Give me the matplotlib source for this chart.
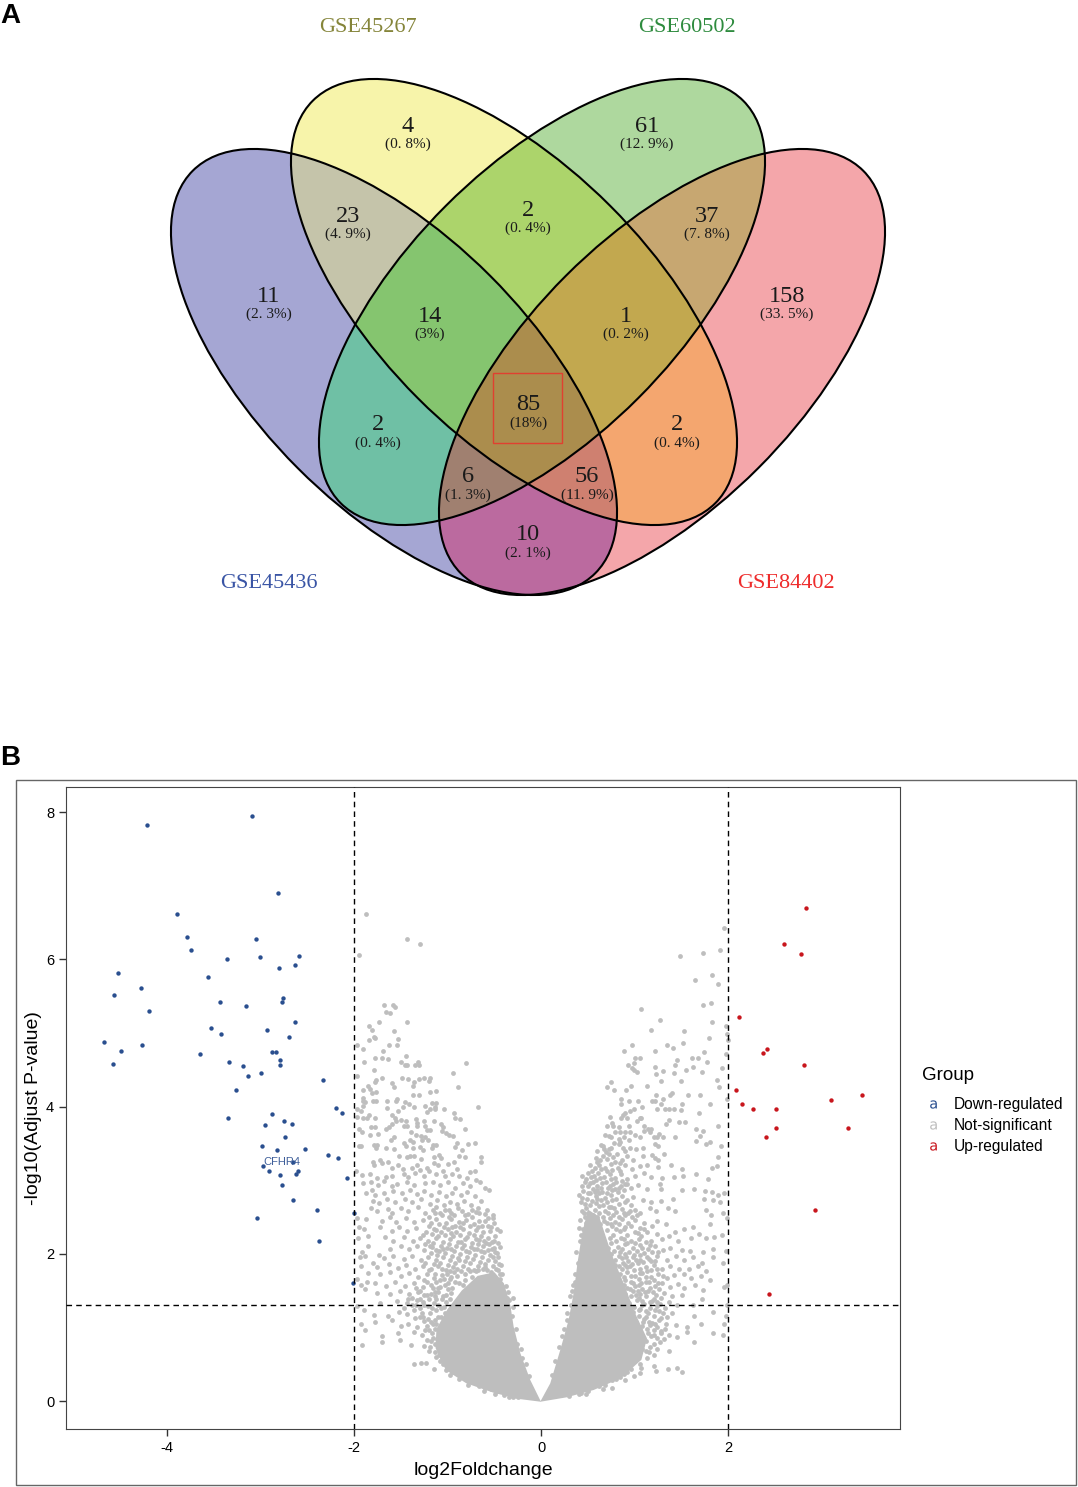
import matplotlib
matplotlib.use("Agg")
import matplotlib.pyplot as plt
import numpy as np
from matplotlib.colors import to_rgba
from matplotlib.lines import Line2D
from matplotlib.patches import Ellipse, Rectangle

plt.rcParams['axes.unicode_minus'] = False

# venn
set_names = ["GSE45267", "GSE60502", "GSE45436", "GSE84402"]
set_colors = ["#85853A", "#2E8B3E", "#3A55A5", "#EE2C2C"]
region_counts = ["4", "61", "23", "2", "37", "11", "158", "14", "1", "2", "85", "2", "6", "56", "10"]
region_pcts = ["(0. 8%)", "(12. 9%)", "(4. 9%)", "(0. 4%)", "(7. 8%)", "(2. 3%)", "(33. 5%)", "(3%)",
               "(0. 2%)", "(0. 4%)", "(18%)", "(0. 4%)", "(1. 3%)", "(11. 9%)", "(2. 1%)"]
# fill of each region, key is (blue, yellow, green, red) membership
region_fill = {
    (1, 0, 0, 0): "#A5A6D3", (0, 1, 0, 0): "#F7F4AA", (0, 0, 1, 0): "#AED89E", (0, 0, 0, 1): "#F4A6AA",
    (1, 1, 0, 0): "#C5C4AA", (0, 1, 1, 0): "#ACD46B", (0, 0, 1, 1): "#C7A771", (1, 0, 1, 0): "#6FC0A5",
    (0, 1, 0, 1): "#F4A66F", (1, 0, 0, 1): "#BB6A9F", (1, 1, 1, 0): "#85C56F", (0, 1, 1, 1): "#C2A84F",
    (1, 0, 1, 1): "#A08070", (1, 1, 0, 1): "#CF8070", (1, 1, 1, 1): "#AB8D4D",
}

# volcano
down_x = [-4.21, -3.09, -2.81, -3.89, -3.78, -3.74, -3.05, -3.36, -3.01, -2.59, -2.63, -2.80, -4.52, -3.56,
          -4.28, -4.56, -4.19, -2.76, -2.77, -3.43, -3.15, -2.63, -3.53, -2.93, -3.42, -2.69, -4.67, -4.27,
          -4.49, -3.65, -2.88, -2.83, -4.58, -2.79, -2.79, -3.34, -3.19, -3.13, -2.99, -2.33, -3.26, -2.19,
          -2.13, -3.35, -2.88, -2.75, -2.66, -2.95, -2.74, -2.98, -2.82, -2.52, -2.28, -2.17, -2.65, -2.97,
          -2.91, -2.60, -2.62, -2.79, -2.08, -2.77, -2.65, -2.40, -2.00, -3.04, -2.37, -2.01]
down_y = [7.82, 7.95, 6.90, 6.61, 6.30, 6.12, 6.27, 6.01, 6.03, 6.04, 5.92, 5.88, 5.82, 5.76,
          5.61, 5.52, 5.30, 5.48, 5.42, 5.42, 5.37, 5.15, 5.06, 5.04, 4.98, 4.95, 4.88, 4.84,
          4.76, 4.72, 4.74, 4.74, 4.58, 4.63, 4.57, 4.61, 4.55, 4.42, 4.45, 4.36, 4.22, 3.98,
          3.91, 3.84, 3.90, 3.81, 3.76, 3.75, 3.59, 3.46, 3.41, 3.42, 3.34, 3.30, 3.24, 3.19,
          3.13, 3.13, 3.09, 3.07, 3.03, 2.94, 2.73, 2.60, 2.56, 2.48, 2.17, 1.60]
up_x = [2.83, 2.59, 2.77, 2.11, 2.41, 2.37, 2.81, 2.08, 3.43, 3.10, 2.14, 2.26, 2.51, 2.51, 3.28, 2.40, 2.92, 2.43]
up_y = [6.69, 6.21, 6.07, 5.22, 4.78, 4.73, 4.56, 4.22, 4.16, 4.09, 4.03, 3.96, 3.96, 3.71, 3.71, 3.59, 2.59, 1.46]

grey_left = [
    (-1.875, 6.62), (-1.43, 6.27), (-1.30, 6.21), (-1.95, 6.06), (-1.68, 5.38), (-1.58, 5.38), (-1.565, 5.35),
    (-1.66, 5.29), (-1.62, 5.27), (-1.73, 5.15), (-1.43, 5.15), (-1.84, 5.09), (-1.81, 5.04), (-1.57, 5.02),
    (-1.79, 4.95), (-1.78, 4.93), (-1.84, 4.90), (-1.53, 4.92), (-1.97, 4.83), (-1.63, 4.84), (-1.54, 4.84),
    (-1.90, 4.78), (-1.69, 4.75), (-1.44, 4.68), (-1.78, 4.66), (-1.70, 4.66), (-1.64, 4.65), (-1.89, 4.61),
    (-1.50, 4.60), (-1.32, 4.61), (-0.80, 4.59), (-1.46, 4.56), (-1.43, 4.57), (-1.35, 4.57), (-1.31, 4.57),
    (-1.79, 4.50), (-0.94, 4.45), (-1.97, 4.42), (-1.70, 4.39), (-1.49, 4.39), (-1.42, 4.37), (-1.31, 4.38),
    (-1.25, 4.39), (-1.19, 4.39), (-1.77, 4.36), (-1.78, 4.33), (-1.20, 4.35), (-1.36, 4.33), (-1.60, 4.32),
    (-1.37, 4.28), (-1.85, 4.28), (-1.83, 4.24), (-1.57, 4.27), (-0.89, 4.26), (-1.91, 4.22), (-1.19, 4.20),
    (-1.12, 4.21), (-1.81, 4.19), (-1.77, 4.20), (-1.37, 4.15), (-1.31, 4.16), (-1.91, 4.12), (-1.90, 4.08),
    (-1.80, 4.07), (-1.77, 4.08), (-1.65, 4.07), (-1.54, 4.10), (-1.55, 4.07), (-1.46, 4.06), (-1.41, 4.03),
    (-1.17, 4.05), (-1.13, 4.05), (-1.88, 4.06), (-1.90, 4.01), (-1.48, 4.00), (-1.355, 3.99), (-1.24, 4.01),
    (-1.14, 4.00), (-0.68, 3.99), (-1.65, 3.98), (-1.97, 3.96), (-1.93, 3.94), (-1.53, 3.94), (-1.19, 3.96),
    (-1.22, 3.93), (-1.14, 3.96), (-1.035, 3.96), (-0.93, 3.91), (-1.84, 3.89), (-1.59, 3.89), (-0.92, 3.85),
    (-0.87, 3.83), (-1.97, 3.86), (-1.90, 3.84), (-1.86, 3.84), (-1.78, 3.84), (-1.56, 3.84), (-1.55, 3.80),
    (-1.50, 3.82), (-1.44, 3.80), (-1.34, 3.83), (-1.33, 3.78), (-1.25, 3.80), (-1.15, 3.81), (-1.07, 3.76),
    (-1.05, 3.72), (-1.60, 3.76), (-1.47, 3.73), (-1.43, 3.73), (-1.33, 3.74), (-1.24, 3.73), (-1.22, 3.68),
    (-1.19, 3.68), (-1.82, 3.72), (-1.78, 3.72), (-1.66, 3.69), (-1.63, 3.72), (-1.95, 3.69), (-1.92, 3.65),
    (-1.83, 3.62), (-1.74, 3.63), (-1.39, 3.66), (-1.34, 3.62), (-1.28, 3.60), (-1.24, 3.59), (-1.06, 3.67),
    (-1.02, 3.64), (-0.99, 3.62), (-0.94, 3.60), (-0.82, 3.69), (-1.61, 3.55), (-1.57, 3.58), (-1.47, 3.50),
    (-1.40, 3.55), (-1.37, 3.52), (-1.27, 3.54), (-1.21, 3.55), (-1.16, 3.48), (-1.13, 3.48), (-0.90, 3.50),
    (-0.92, 3.45), (-0.78, 3.49), (-0.71, 3.50), (-1.95, 3.46), (-1.93, 3.46), (-1.79, 3.48), (-1.76, 3.48),
    (-1.77, 3.43), (-1.66, 3.44), (-1.57, 3.42), (-1.45, 3.47), (-1.37, 3.43), (-1.30, 3.45), (-1.26, 3.41),
    (-1.17, 3.43), (-0.85, 3.41), (-1.52, 3.33), (-1.43, 3.31), (-1.40, 3.33), (-1.36, 3.33), (-1.28, 3.29),
    (-1.15, 3.31), (-1.09, 3.34), (-1.07, 3.30), (-0.88, 3.33), (-0.82, 3.32), (-0.64, 3.31), (-0.64, 3.25),
    (-1.80, 3.25), (-1.79, 3.20), (-1.72, 3.27), (-1.70, 3.23), (-1.64, 3.24), (-1.59, 3.16), (-1.53, 3.20),
    (-1.48, 3.15), (-1.38, 3.17), (-1.33, 3.20), (-1.30, 3.14), (-1.22, 3.16), (-1.15, 3.23), (-1.10, 3.20),
    (-1.05, 3.13), (-1.00, 3.22), (-0.93, 3.24), (-0.90, 3.15), (-0.76, 3.11), (-0.71, 3.12), (-1.98, 3.12),
    (-1.92, 3.07), (-1.83, 3.09), (-1.75, 3.03), (-1.66, 3.04), (-1.60, 3.05), (-1.47, 3.08), (-1.42, 3.04),
    (-1.35, 3.10), (-1.25, 3.05), (-1.20, 3.12), (-1.12, 3.08), (-1.03, 3.05), (-0.95, 3.09), (-0.88, 3.05),
    (-0.79, 3.03), (-0.70, 3.00), (-0.65, 2.98), (-1.91, 2.96), (-1.82, 2.97), (-1.74, 2.93), (-1.68, 2.99),
    (-1.60, 2.92), (-1.54, 2.95), (-1.43, 2.97), (-1.36, 2.94), (-1.24, 2.96), (-1.16, 2.98), (-1.08, 2.93),
    (-1.00, 2.97), (-0.92, 2.90), (-0.84, 2.96), (-0.76, 2.92), (-0.60, 2.90), (-0.56, 2.87), (-1.87, 2.83),
    (-1.81, 2.87), (-1.78, 2.80), (-1.68, 2.82), (-1.58, 2.85), (-1.49, 2.82), (-1.40, 2.86), (-1.33, 2.81),
    (-1.25, 2.85), (-1.18, 2.80), (-1.09, 2.84), (-1.02, 2.79), (-0.95, 2.83), (-0.86, 2.80), (-0.79, 2.84),
    (-0.71, 2.78), (-0.64, 2.72), (-1.80, 2.72), (-1.73, 2.69), (-1.65, 2.74), (-1.56, 2.70), (-1.46, 2.75),
    (-1.38, 2.71), (-1.28, 2.74), (-1.19, 2.68), (-1.11, 2.73), (-1.04, 2.66), (-0.97, 2.71), (-0.90, 2.67),
    (-0.83, 2.72), (-0.75, 2.66), (-0.68, 2.62), (-1.82, 2.62), (-1.75, 2.58), (-1.64, 2.61), (-1.59, 2.56),
    (-1.50, 2.62), (-1.42, 2.58), (-1.32, 2.63), (-1.24, 2.55), (-1.16, 2.60), (-1.08, 2.56), (-0.99, 2.60),
    (-0.93, 2.53), (-0.85, 2.58), (-0.78, 2.54), (-0.70, 2.57), (-0.60, 2.54), (-0.52, 2.49), (-1.97, 2.49),
    (-1.87, 2.47), (-1.70, 2.45), (-1.62, 2.50), (-1.55, 2.43), (-1.45, 2.48), (-1.36, 2.43), (-1.26, 2.46),
    (-1.18, 2.42), (-1.12, 2.47), (-1.02, 2.42), (-0.96, 2.47), (-0.88, 2.43), (-0.80, 2.46), (-0.72, 2.41),
    (-0.66, 2.44), (-0.57, 2.38), (-0.50, 2.42), (-1.95, 2.37), (-1.89, 2.33), (-1.72, 2.36), (-1.60, 2.31),
    (-1.52, 2.36), (-1.43, 2.31), (-1.34, 2.35), (-1.23, 2.30), (-1.15, 2.34), (-1.07, 2.29), (-1.00, 2.33),
    (-0.91, 2.30), (-0.84, 2.33), (-0.77, 2.28), (-0.70, 2.32), (-0.62, 2.29), (-0.55, 2.31), (-0.44, 2.31),
    (-1.96, 2.22), (-1.85, 2.24), (-1.67, 2.23), (-1.58, 2.18), (-1.47, 2.23), (-1.37, 2.18), (-1.30, 2.22),
    (-1.21, 2.17), (-1.13, 2.21), (-1.05, 2.16), (-0.97, 2.20), (-0.89, 2.16), (-0.81, 2.20), (-0.74, 2.15),
    (-0.66, 2.19), (-0.59, 2.14), (-0.51, 2.18), (-0.46, 2.14), (-1.85, 2.10), (-1.62, 2.07), (-1.50, 2.10),
    (-1.41, 2.06), (-1.33, 2.10), (-1.25, 2.05), (-1.17, 2.09), (-1.09, 2.04), (-1.01, 2.08), (-0.93, 2.04),
    (-0.85, 2.08), (-0.77, 2.03), (-0.69, 2.07), (-0.61, 2.02), (-0.53, 2.06), (-0.47, 2.01), (-1.92, 2.03),
    (-1.94, 1.95), (-1.88, 1.97), (-1.73, 1.99), (-1.68, 1.94), (-1.58, 1.97), (-1.47, 1.93), (-1.38, 1.97),
    (-1.29, 1.92), (-1.21, 1.96), (-1.13, 1.91), (-1.05, 1.95), (-0.97, 1.91), (-0.89, 1.94), (-0.81, 1.90),
    (-0.73, 1.93), (-0.65, 1.89), (-0.57, 1.92), (-0.49, 1.90), (-0.43, 1.85), (-1.93, 1.84), (-1.80, 1.88),
    (-1.75, 1.82), (-1.63, 1.86), (-1.53, 1.81), (-1.44, 1.85), (-1.35, 1.80), (-1.26, 1.84), (-1.18, 1.79),
    (-1.10, 1.83), (-1.02, 1.78), (-0.94, 1.82), (-0.86, 1.77), (-0.78, 1.80), (-0.70, 1.76), (-0.62, 1.79),
    (-0.54, 1.75), (-0.46, 1.78), (-0.42, 1.72), (-1.85, 1.74), (-1.72, 1.72), (-1.62, 1.75), (-1.50, 1.70),
    (-1.41, 1.74), (-1.32, 1.69), (-1.22, 1.73), (-1.15, 1.67), (-1.06, 1.71), (-0.98, 1.66), (-0.90, 1.70),
    (-0.82, 1.65), (-0.74, 1.68), (-0.66, 1.64), (-0.58, 1.67), (-0.50, 1.63), (-0.44, 1.66), (-1.97, 1.66),
    (-1.93, 1.58), (-1.86, 1.62), (-1.78, 1.60), (-1.66, 1.56), (-1.56, 1.61), (-1.46, 1.56), (-1.36, 1.60),
    (-1.26, 1.55), (-1.18, 1.58), (-1.10, 1.54), (-1.03, 1.58), (-0.95, 1.53), (-0.38, 1.56), (-0.36, 1.48),
    (-1.88, 1.52), (-1.76, 1.47), (-1.62, 1.46), (-1.51, 1.49), (-1.41, 1.45), (-1.32, 1.48), (-1.22, 1.44),
    (-1.14, 1.48), (-1.05, 1.43), (-0.30, 1.40), (-0.34, 1.37), (-1.97, 1.29), (-1.89, 1.24), (-1.72, 1.33),
    (-1.54, 1.36), (-1.43, 1.33), (-1.33, 1.37), (-1.25, 1.30), (-1.15, 1.33), (-1.07, 1.27), (-1.79, 1.17),
    (-1.78, 1.08), (-1.64, 1.16), (-1.60, 1.10), (-1.52, 1.21), (-1.43, 1.18), (-1.36, 1.24), (-1.27, 1.20),
    (-1.19, 1.19), (-1.10, 1.14), (-1.03, 1.20), (-1.93, 1.05), (-1.88, 0.96), (-1.50, 1.02), (-1.42, 1.05),
    (-1.33, 1.00), (-1.25, 1.09), (-1.16, 1.04), (-1.08, 0.97), (-1.53, 0.92), (-1.51, 0.83), (-1.36, 0.94),
    (-1.27, 0.89), (-1.17, 0.92), (-1.11, 0.84), (-1.70, 0.88), (-1.70, 0.80), (-1.92, 0.76), (-1.39, 0.76),
    (-1.25, 0.75), (-1.19, 0.73), (-1.14, 0.66), (-1.07, 0.72), (-1.36, 0.50), (-1.28, 0.52), (-1.23, 0.52),
    (-1.15, 0.43), (-1.02, 0.42), (-0.97, 0.36), (-0.88, 0.30), (-0.78, 0.22), (-0.61, 0.14), (-0.49, 0.10),
    (-0.91, 0.56), (-1.06, 0.58), (-0.30, 1.28), (-0.31, 1.15), (-0.27, 0.98), (-0.22, 0.70), (-0.16, 0.50),
]
# denser part of the left arm
grey_left_mid = [
    (-1.12, 2.63), (-1.03, 2.60), (-0.96, 2.56), (-0.89, 2.62), (-0.81, 2.52), (-0.74, 2.60), (-0.66, 2.55),
    (-0.58, 2.60), (-0.52, 2.53), (-1.20, 2.50), (-1.09, 2.40), (-0.99, 2.50), (-0.92, 2.38), (-0.84, 2.42),
    (-0.76, 2.38), (-0.68, 2.36), (-0.60, 2.44), (-0.54, 2.36), (-0.47, 2.34), (-1.17, 2.27), (-1.10, 2.24),
    (-1.03, 2.26), (-0.94, 2.24), (-0.87, 2.25), (-0.79, 2.23), (-0.72, 2.25), (-0.64, 2.24), (-0.57, 2.22),
    (-0.49, 2.24), (-1.24, 2.13), (-1.16, 2.15), (-1.07, 2.11), (-0.99, 2.13), (-0.91, 2.10), (-0.83, 2.12),
    (-0.75, 2.09), (-0.68, 2.13), (-0.62, 2.10), (-0.56, 2.13), (-0.50, 2.08), (-0.44, 2.09), (-1.18, 2.01),
    (-1.11, 1.98), (-1.03, 2.01), (-0.95, 1.97), (-0.87, 2.00), (-0.79, 1.96), (-0.71, 1.99), (-0.63, 1.96),
    (-0.55, 1.99), (-0.52, 1.95), (-0.46, 1.96), (-1.08, 1.88), (-1.00, 1.85), (-0.92, 1.87), (-0.84, 1.84),
    (-0.76, 1.87), (-0.68, 1.83), (-0.60, 1.86), (-0.52, 1.83), (-0.45, 1.86), (-1.01, 1.73), (-0.93, 1.75),
    (-1.25, 1.65), (-1.12, 1.62), (-1.08, 1.65), (-1.00, 1.60), (-0.92, 1.62), (-1.30, 1.50), (-1.18, 1.46),
    (-1.10, 1.48), (-1.02, 1.44), (-0.96, 1.47), (-1.38, 1.40), (-1.30, 1.38), (-1.20, 1.38), (-1.12, 1.38),
    (-1.02, 1.34), (-0.98, 1.38), (-1.38, 1.30), (-1.30, 1.27), (-1.21, 1.29), (-1.12, 1.24), (-1.04, 1.28),
    (-1.47, 1.26), (-1.30, 1.14), (-1.21, 1.12), (-1.14, 1.10), (-1.07, 1.14), (-1.22, 1.02), (-1.14, 0.98),
    (-1.20, 0.96), (-1.12, 1.05), (-1.16, 0.85), (-1.22, 0.83), (-1.14, 0.78), (-1.09, 0.62), (-1.05, 0.50),
    (-0.99, 0.49), (-0.93, 0.43), (-0.84, 0.34), (-0.72, 0.26), (-0.66, 0.21), (-0.54, 0.17), (-0.40, 0.08),
    (-0.30, 0.05), (-0.36, 1.25), (-0.34, 1.12), (-0.31, 0.92), (-0.26, 0.78), (-0.21, 0.58), (-0.13, 0.34),
    (-0.40, 1.45), (-0.42, 1.56), (-0.37, 1.40), (-0.44, 1.73), (-0.48, 1.80), (-0.60, 1.82), (-0.72, 1.78),
    (-1.14, 2.56), (-1.06, 2.52), (-0.95, 2.37), (-0.87, 2.36), (-0.74, 2.50), (-0.63, 2.38), (-0.57, 2.48),
    (-1.20, 2.38), (-1.12, 2.32), (-1.04, 2.36), (-0.96, 2.28), (-0.86, 2.16), (-0.70, 2.20), (-0.61, 2.18),
    (-0.53, 2.16), (-1.26, 2.25), (-1.19, 2.10), (-1.12, 2.05), (-1.05, 2.06), (-0.96, 2.06), (-0.88, 1.92),
    (-0.80, 2.04), (-0.72, 2.06), (-0.64, 2.04), (-0.57, 2.05), (-0.49, 2.02), (-1.24, 1.88), (-1.15, 1.86),
    (-1.06, 1.80), (-0.98, 1.77), (-0.90, 1.80), (-0.82, 1.72), (-0.76, 1.76), (-0.68, 1.78), (-0.58, 1.78),
    (-1.20, 1.78), (-1.14, 1.72), (-1.04, 1.66), (-0.96, 1.68), (-0.88, 1.60), (-0.84, 1.58), (-1.22, 1.62),
    (-1.16, 1.54), (-1.08, 1.55), (-1.00, 1.52), (-1.34, 1.54), (-1.25, 1.44), (-1.14, 1.42), (-1.06, 1.38),
    (-1.42, 1.38), (-1.34, 1.30), (-1.26, 1.34), (-1.17, 1.26), (-1.10, 1.30), (-1.35, 1.13), (-1.26, 1.14),
    (-1.18, 1.08), (-1.24, 0.97), (-1.18, 0.82), (-1.20, 0.68), (-1.12, 0.60), (-1.08, 0.55), (-0.78, 0.27),
    (-0.60, 0.18), (-0.47, 0.13), (-0.35, 0.06), (-0.25, 0.06), (-0.95, 0.40), (-0.88, 0.35),
]
grey_right = [
    (1.95, 6.42), (1.73, 6.09), (1.91, 6.12), (1.48, 6.05), (1.64, 5.72), (1.82, 5.78), (1.89, 5.67), (1.73, 5.38),
    (1.81, 5.40), (1.07, 5.32), (1.27, 5.18), (1.82, 5.15), (1.97, 5.09), (1.17, 5.04), (1.53, 5.03), (1.98, 4.98),
    (1.79, 4.93), (1.99, 4.91), (1.51, 4.86), (0.965, 4.84), (1.34, 4.84), (1.41, 4.80), (0.88, 4.75), (1.21, 4.75),
    (1.74, 4.74), (1.97, 4.71), (1.00, 4.66), (1.06, 4.66), (1.61, 4.66), (1.68, 4.66), (1.45, 4.63), (1.77, 4.61),
    (0.986, 4.59), (0.93, 4.57), (1.43, 4.57), (1.22, 4.54), (1.62, 4.54), (1.93, 4.52), (0.968, 4.52), (0.99, 4.49),
    (1.02, 4.465), (1.30, 4.48), (1.55, 4.50), (1.716, 4.465), (1.23, 4.44), (1.42, 4.46), (1.876, 4.36), (1.28, 4.35),
    (1.49, 4.34), (0.75, 4.33), (0.70, 4.26), (0.78, 4.22), (0.957, 4.28), (1.13, 4.28), (0.904, 4.22), (1.90, 4.26),
    (1.40, 4.18), (1.57, 4.15), (1.70, 4.15), (1.23, 4.15), (1.38, 4.16), (0.854, 4.10), (1.30, 4.10), (1.98, 4.10),
    (0.936, 4.07), (1.03, 4.08), (1.18, 4.07), (1.22, 4.07), (1.28, 4.04), (0.847, 4.03), (1.08, 3.99), (1.50, 4.03),
    (1.80, 4.03), (1.235, 3.96), (1.32, 3.96), (1.36, 3.96), (1.42, 3.96), (1.49, 3.95), (0.986, 3.96), (0.943, 3.94),
    (0.90, 3.91), (0.87, 3.89), (1.69, 3.91), (0.73, 3.86), (1.07, 3.85), (0.854, 3.84), (0.92, 3.84), (1.05, 3.84),
    (1.36, 3.82), (1.02, 3.80), (1.33, 3.76), (1.47, 3.79), (1.54, 3.79), (0.755, 3.77), (0.77, 3.74), (0.70, 3.73),
    (0.83, 3.72), (0.94, 3.74), (1.10, 3.73), (1.89, 3.73), (1.14, 3.70), (1.175, 3.70), (1.65, 3.69), (1.73, 3.67),
    (0.79, 3.65), (0.84, 3.66), (0.89, 3.65), (0.95, 3.65), (1.10, 3.67), (1.16, 3.65), (0.72, 3.60), (1.00, 3.61),
    (1.06, 3.59), (1.20, 3.59), (1.235, 3.58), (1.26, 3.63), (1.30, 3.59), (1.43, 3.58), (1.70, 3.60), (0.94, 3.55),
    (1.655, 3.53), (1.80, 3.52), (1.76, 3.49), (0.836, 3.52), (0.826, 3.49), (1.22, 3.49), (1.25, 3.46), (1.925, 3.46),
    (0.66, 3.47), (0.67, 3.42), (0.69, 3.38), (0.75, 3.44), (0.81, 3.36), (0.87, 3.44), (0.90, 3.39), (0.95, 3.43),
    (1.01, 3.42), (1.09, 3.44), (1.18, 3.34), (1.31, 3.35), (0.58, 3.30), (0.63, 3.27), (0.70, 3.29), (0.77, 3.32),
    (0.86, 3.28), (0.92, 3.33), (0.98, 3.27), (1.09, 3.33), (1.21, 3.30), (1.25, 3.27), (1.89, 3.32), (0.52, 3.20),
    (0.57, 3.17), (0.62, 3.21), (0.68, 3.16), (0.74, 3.22), (0.82, 3.17), (0.90, 3.20), (0.97, 3.15), (1.05, 3.19),
    (1.13, 3.21), (1.25, 3.18), (1.39, 3.20), (1.50, 3.15), (1.82, 3.16), (1.88, 3.19), (0.50, 3.10), (0.56, 3.06),
    (0.61, 3.10), (0.67, 3.04), (0.73, 3.08), (0.79, 3.03), (0.85, 3.08), (0.92, 3.02), (1.00, 3.06), (1.10, 3.10),
    (1.17, 3.04), (1.29, 3.03), (1.42, 3.04), (1.51, 3.06), (1.65, 3.09), (1.78, 3.02), (0.55, 2.97), (0.60, 2.92),
    (0.65, 2.96), (0.71, 2.90), (0.77, 2.95), (0.83, 2.90), (0.89, 2.95), (0.96, 2.89), (1.03, 2.93), (1.13, 2.88),
    (1.27, 2.95), (1.28, 2.88), (1.50, 2.87), (1.63, 2.88), (1.75, 2.85), (1.82, 2.84), (1.89, 2.80), (1.95, 2.83),
    (0.52, 2.83), (0.58, 2.78), (0.62, 2.82), (0.68, 2.76), (0.74, 2.80), (0.80, 2.74), (0.86, 2.79), (0.92, 2.73),
    (0.98, 2.77), (1.09, 2.73), (1.17, 2.71), (1.28, 2.72), (1.41, 2.74), (1.74, 2.74), (1.83, 2.73), (1.91, 2.70),
    (0.52, 2.66), (0.48, 2.62), (0.57, 2.60), (0.62, 2.65), (0.68, 2.58), (0.74, 2.63), (0.80, 2.57), (0.86, 2.61),
    (0.93, 2.56), (1.00, 2.60), (1.05, 2.55), (1.16, 2.62), (1.23, 2.58), (1.35, 2.62), (1.43, 2.58), (1.76, 2.60),
    (1.81, 2.53), (1.94, 2.55), (1.98, 2.48), (0.47, 2.50), (0.53, 2.46), (0.60, 2.50), (0.67, 2.44), (0.73, 2.49),
    (0.79, 2.43), (0.86, 2.47), (0.93, 2.42), (1.00, 2.46), (1.10, 2.42), (1.18, 2.38), (1.24, 2.44), (1.33, 2.40),
    (1.43, 2.30), (1.53, 2.33), (1.62, 2.37), (1.69, 2.27), (1.80, 2.40), (1.85, 2.23), (1.93, 2.25), (0.45, 2.33),
    (0.50, 2.28), (0.56, 2.34), (0.63, 2.27), (0.70, 2.32), (0.77, 2.26), (0.84, 2.31), (0.92, 2.25), (1.00, 2.29),
    (1.07, 2.24), (1.13, 2.30), (1.24, 2.27), (1.29, 2.20), (1.36, 2.24), (1.46, 2.18), (1.60, 2.21), (1.76, 2.22),
    (0.47, 2.15), (0.52, 2.11), (0.60, 2.16), (0.67, 2.10), (0.74, 2.15), (0.82, 2.09), (0.90, 2.13), (0.98, 2.08),
    (1.05, 2.12), (1.14, 2.07), (1.22, 2.10), (1.30, 2.05), (1.38, 2.08), (1.50, 2.05), (1.59, 2.04), (1.73, 2.03),
    (1.83, 2.07), (1.97, 2.04), (0.45, 2.00), (0.75, 2.00), (0.83, 1.97), (0.90, 2.00), (0.98, 1.95), (1.06, 1.98),
    (1.15, 1.93), (1.24, 1.97), (1.34, 1.92), (1.44, 1.97), (1.52, 1.91), (1.62, 1.95), (1.72, 1.87), (1.84, 1.95),
    (1.94, 1.88), (0.39, 1.88), (0.72, 1.86), (0.79, 1.85), (0.87, 1.88), (0.95, 1.83), (1.03, 1.87), (1.12, 1.82),
    (1.20, 1.85), (1.29, 1.80), (1.38, 1.84), (1.47, 1.79), (1.58, 1.80), (1.67, 1.83), (1.76, 1.76), (0.76, 1.75),
    (0.84, 1.72), (0.92, 1.75), (1.00, 1.70), (1.08, 1.74), (1.17, 1.69), (1.25, 1.72), (1.34, 1.67), (1.42, 1.71),
    (1.52, 1.73), (1.60, 1.67), (1.71, 1.70), (1.80, 1.64), (1.98, 1.58), (0.36, 1.62), (0.80, 1.61), (0.88, 1.58),
    (0.96, 1.62), (1.04, 1.57), (1.12, 1.61), (1.21, 1.56), (1.29, 1.60), (1.38, 1.55), (1.46, 1.59), (1.53, 1.53),
    (1.64, 1.58), (1.73, 1.51), (1.95, 1.55), (0.33, 1.50), (0.82, 1.49), (0.90, 1.46), (0.98, 1.50), (1.06, 1.45),
    (1.14, 1.49), (1.23, 1.44), (1.31, 1.47), (1.40, 1.42), (1.50, 1.44), (1.72, 1.39), (1.98, 1.31), (0.86, 1.37),
    (0.94, 1.33), (1.02, 1.37), (1.10, 1.32), (1.18, 1.36), (1.27, 1.32), (1.36, 1.34), (1.45, 1.30), (1.62, 1.30),
    (0.32, 1.30), (0.90, 1.24), (0.98, 1.21), (1.06, 1.25), (1.14, 1.20), (1.22, 1.24), (1.30, 1.20), (1.40, 1.19),
    (1.63, 1.16), (1.83, 1.21), (1.97, 1.15), (0.28, 1.10), (0.93, 1.10), (1.01, 1.07), (1.10, 1.11), (1.18, 1.06),
    (1.26, 1.10), (1.33, 1.05), (1.44, 1.03), (1.56, 1.00), (1.71, 1.04), (1.95, 1.05), (1.06, 0.96), (1.14, 0.93),
    (1.20, 0.97), (1.28, 0.92), (1.37, 0.90), (1.45, 0.87), (1.63, 0.80), (1.56, 0.94), (1.84, 0.92), (1.94, 0.90),
    (0.22, 0.88), (1.12, 0.82), (1.20, 0.78), (1.27, 0.80), (1.36, 0.68), (1.12, 0.68), (1.20, 0.62), (1.07, 0.45),
    (1.20, 0.48), (1.23, 0.41), (1.35, 0.43), (1.45, 0.45), (1.50, 0.40), (1.06, 0.38), (0.99, 0.34), (0.90, 0.28),
    (0.84, 0.33), (0.76, 0.18), (0.66, 0.16), (0.48, 0.10), (0.15, 0.55), (0.12, 0.36),
]
# denser part of the right arm
grey_right_mid = [
    (0.44, 3.05), (0.47, 2.98), (0.50, 2.92), (0.58, 3.00), (0.63, 3.03), (0.69, 2.98), (0.74, 3.01), (0.80, 2.97),
    (0.86, 2.99), (0.40, 2.80), (0.45, 2.85), (0.49, 2.75), (0.55, 2.88), (0.60, 2.86), (0.65, 2.84), (0.70, 2.83),
    (0.76, 2.87), (0.82, 2.84), (0.88, 2.86), (0.42, 2.70), (0.47, 2.68), (0.54, 2.72), (0.58, 2.69), (0.64, 2.73),
    (0.70, 2.70), (0.76, 2.73), (0.83, 2.68), (0.90, 2.70), (0.96, 2.66), (0.43, 2.58), (0.50, 2.56), (0.55, 2.53),
    (0.62, 2.56), (0.71, 2.55), (0.77, 2.52), (0.83, 2.50), (0.90, 2.52), (0.97, 2.50), (0.41, 2.46), (0.48, 2.42),
    (0.56, 2.42), (0.63, 2.40), (0.70, 2.42), (0.76, 2.38), (0.83, 2.40), (0.90, 2.37), (1.05, 2.35), (0.40, 2.35),
    (0.42, 2.25), (0.59, 2.24), (0.66, 2.20), (0.73, 2.22), (0.80, 2.18), (0.88, 2.20), (0.96, 2.17), (1.04, 2.20),
    (1.12, 2.16), (0.71, 2.08), (0.78, 2.04), (0.86, 2.06), (0.94, 2.02), (1.02, 2.04), (1.10, 2.01), (1.18, 2.02),
    (0.79, 1.92), (0.86, 1.94), (0.93, 1.90), (1.01, 1.92), (1.09, 1.89), (1.17, 1.90), (0.78, 1.80), (0.86, 1.80),
    (0.92, 1.82), (0.99, 1.78), (1.06, 1.80), (1.13, 1.76), (0.88, 1.68), (0.96, 1.70), (1.04, 1.66), (1.12, 1.68),
    (1.20, 1.64), (1.30, 1.70), (0.92, 1.54), (1.00, 1.56), (1.08, 1.52), (1.16, 1.54), (1.26, 1.52), (0.96, 1.42),
    (1.04, 1.40), (1.12, 1.42), (1.20, 1.38), (1.28, 1.40), (0.99, 1.28), (1.08, 1.30), (1.16, 1.27), (1.24, 1.29),
    (1.32, 1.26), (1.04, 1.16), (1.12, 1.14), (1.20, 1.16), (1.28, 1.13), (1.08, 1.02), (1.16, 1.03), (1.24, 1.00),
    (1.32, 0.98), (1.17, 0.88), (1.24, 0.86), (1.31, 0.84), (1.16, 0.74), (1.08, 0.70), (1.13, 0.58), (1.05, 0.50),
    (0.96, 0.43), (0.88, 0.37), (0.76, 0.28), (0.62, 0.20), (0.40, 0.09), (0.30, 0.07), (0.36, 1.72), (0.34, 1.58),
    (0.31, 1.42), (0.27, 1.20), (0.24, 0.98), (0.19, 0.74), (0.37, 2.02), (0.41, 2.18),
    (0.60, 3.40), (0.64, 3.48), (0.72, 3.42), (0.78, 3.50), (0.83, 3.56), (0.88, 3.58), (0.74, 3.58), (0.68, 3.62),
    (0.64, 3.15), (0.70, 3.12), (0.76, 3.14), (0.84, 3.12), (0.54, 3.12), (0.60, 3.25), (0.66, 3.33), (0.72, 3.36),
    (0.79, 3.25), (0.84, 3.23), (0.48, 3.02), (0.53, 3.04), (0.43, 2.92), (0.52, 2.96), (0.57, 2.84), (0.64, 2.90),
    (0.73, 2.92), (0.79, 2.88), (0.85, 2.92), (0.92, 2.95), (0.44, 2.76), (0.50, 2.82), (0.60, 2.74), (0.66, 2.66),
    (0.72, 2.64), (0.78, 2.62), (0.88, 2.55), (0.95, 2.58), (1.02, 2.52), (0.46, 2.55), (0.52, 2.50), (0.58, 2.35),
    (0.66, 2.50), (0.74, 2.40), (0.80, 2.34), (0.88, 2.34), (0.96, 2.38), (1.03, 2.28), (1.10, 2.34), (1.17, 2.18),
    (0.85, 2.22), (0.92, 2.14), (1.00, 2.14), (1.08, 2.08), (1.16, 2.12), (1.25, 2.02), (0.84, 2.02), (0.91, 1.96),
    (0.99, 1.98), (1.06, 1.92), (1.13, 1.95), (1.22, 1.90), (0.83, 1.84), (0.90, 1.85), (0.97, 1.86), (1.05, 1.74),
    (1.17, 1.78), (1.24, 1.80), (0.90, 1.65), (0.98, 1.60), (1.07, 1.60), (1.15, 1.62), (1.25, 1.60), (0.95, 1.52),
    (1.03, 1.50), (1.11, 1.48), (1.19, 1.48), (1.01, 1.44), (1.08, 1.36), (1.16, 1.34), (1.24, 1.35), (1.04, 1.24),
    (1.12, 1.22), (1.26, 1.22), (1.34, 1.14), (1.09, 1.08), (1.15, 1.08), (1.22, 1.04), (1.13, 0.98), (1.20, 0.90),
    (1.28, 0.95), (1.15, 0.66), (1.24, 0.70), (0.92, 0.40), (0.80, 0.30), (0.68, 0.22), (0.50, 0.13), (0.42, 0.11),
]
# solid part of the cloud, traced as an outline
core_left_x = [-0.003, -0.117, -0.223, -0.295, -0.33, -0.40, -0.50, -0.68, -0.85, -1.00, -1.12, -1.13, -1.02, -0.80, -0.51, -0.259]
core_left_y = [-0.01, 0.285, 0.647, 1.01, 1.30, 1.60, 1.75, 1.70, 1.50, 1.25, 0.98, 0.72, 0.42, 0.24, 0.113, 0.031]
core_right_x = [-0.011, 0.096, 0.203, 0.292, 0.345, 0.39, 0.44, 0.50, 0.62, 0.75, 0.88, 1.00, 1.13, 1.07, 0.85, 0.56, 0.27]
core_right_y = [-0.01, 0.24, 0.693, 1.10, 1.46, 1.90, 2.30, 2.60, 2.50, 2.00, 1.60, 1.20, 0.85, 0.56, 0.31, 0.15, 0.05]

GREY = "#BEBEBE"
BLUE = "#2A4F8F"
RED = "#C8161D"

W, H = 1078, 1487
fig = plt.figure(figsize=(W / 100, H / 100), dpi=100)

# page axes in pixels for the venn and the panel furniture
page = fig.add_axes([0, 0, 1, 1])
page.set_xlim(0, W)
page.set_ylim(H, 0)
page.axis("off")

# y is flipped on the page axes, so +45 runs upper left to lower right on screen
SEMI_A, SEMI_B = 284.6, 136
venn_cfg = [((394, 372), 45), ((514, 302), 45), ((542, 302), -45), ((662, 372), -45)]

# each overlap has its own flat colour in the original, so paint by membership
gx_px, gy_px = np.meshgrid(np.arange(W) + 0.5, np.arange(620) + 0.5)
member = []
for c, ang in venn_cfg:
    dx, dy = gx_px - c[0], gy_px - c[1]
    t = np.deg2rad(ang)
    u = dx * np.cos(t) + dy * np.sin(t)
    v = -dx * np.sin(t) + dy * np.cos(t)
    member.append((u / SEMI_A) ** 2 + (v / SEMI_B) ** 2 <= 1)
img = np.zeros((620, W, 4))
for key, col in region_fill.items():
    mask = np.ones_like(member[0])
    for m, k in zip(member, key):
        mask &= m if k else ~m
    img[mask] = to_rgba(col)
page.imshow(img, extent=(0, W, 620, 0), aspect="auto", interpolation="nearest", zorder=1)
page.set_xlim(0, W)
page.set_ylim(H, 0)
for c, ang in venn_cfg:
    page.add_patch(Ellipse(c, 2 * SEMI_A, 2 * SEMI_B, angle=ang, fc="none", ec="black", lw=1.5, zorder=2))

name_pos = [(368, 27), (687, 27), (269, 583), (786, 583)]
for name, col, p in zip(set_names, set_colors, name_pos):
    page.text(p[0], p[1], name, color=col, family="Liberation Serif", fontsize=16, ha="center", va="center")

region_pos = [(408, 126), (647, 126), (348, 216), (528, 210), (707, 216), (269, 296), (787, 296), (430, 316),
              (626, 316), (378, 425), (528, 405), (677, 425), (468, 477), (587, 477), (528, 535)]
for cnt, pct, p in zip(region_counts, region_pcts, region_pos):
    page.text(p[0], p[1], cnt, family="Liberation Serif", fontsize=17.5, ha="center", va="center", color="#1a1a1a", zorder=3)
    page.text(p[0], p[1] + 18, pct, family="Liberation Serif", fontsize=11, ha="center", va="center", color="#1a1a1a", zorder=3)

page.add_patch(Rectangle((493, 373), 69, 70, fc="none", ec="#E04030", lw=1, zorder=3))
page.add_patch(Rectangle((16, 780), 1060, 705, fc="none", ec="#666666", lw=1))
page.text(0, 16, "A", fontsize=20, fontweight="bold", family="Liberation Sans", va="center")
page.text(0, 758, "B", fontsize=20, fontweight="bold", family="Liberation Sans", va="center")

# volcano
ax = fig.add_axes([66 / W, 1 - 1429 / H, (900 - 66) / W, (1429 - 787) / H])
ax.set_facecolor("none")
ax.fill(core_left_x, core_left_y, color=GREY, lw=0, zorder=1)
ax.fill(core_right_x, core_right_y, color=GREY, lw=0, zorder=1)
grey_all = grey_left + grey_left_mid + grey_right + grey_right_mid
gx = [p[0] for p in grey_all]
gy = [p[1] for p in grey_all]
ax.scatter(gx, gy, s=12, color=GREY, linewidths=0, zorder=2)
ax.scatter(down_x, down_y, s=10, color=BLUE, linewidths=0, zorder=3)
ax.scatter(up_x, up_y, s=10, color=RED, linewidths=0, zorder=3)
ax.text(-2.775, 3.25, "CFHR4", color="#3F5F9A", fontsize=8, family="Liberation Sans", ha="center", va="center", zorder=4)

for v in [-2, 2]:
    ax.axvline(v, color="black", ls=(0, (4, 3)), lw=1, zorder=4)
ax.axhline(1.3, color="black", ls=(0, (4, 3)), lw=1, zorder=4)

ax.set_xlim(-5.078, 3.833)
ax.set_ylim(-0.38, 8.34)
ax.set_xticks([-4, -2, 0, 2])
ax.set_yticks([0, 2, 4, 6, 8])
ax.tick_params(labelsize=10.5, length=5, width=1, color="#333333", labelfontfamily="Liberation Sans")
for s in ax.spines.values():
    s.set_color("#444444")
    s.set_linewidth(0.8)
ax.set_xlabel("log2Foldchange", fontsize=14, family="Liberation Sans", labelpad=5)
ax.set_ylabel("-log10(Adjust P-value)", fontsize=14, family="Liberation Sans", labelpad=3)

handles = [Line2D([], [], ls="", marker=r"$\mathrm{a}$", ms=6, color=c, mew=0) for c in [BLUE, GREY, RED]]
leg = fig.legend(handles, ["Down-regulated", "Not-significant", "Up-regulated"], title="Group",
                 loc="upper left", bbox_to_anchor=(910 / W, 1 - 1055 / H), frameon=False,
                 prop={"family": "Liberation Sans", "size": 11.2},
                 title_fontproperties={"family": "Liberation Sans", "size": 13.5},
                 labelspacing=0.4, handletextpad=0.6, handlelength=1.4, alignment="left", borderpad=0.3)
leg._legend_box.sep = 9

fig.savefig("out.png", dpi=100)
